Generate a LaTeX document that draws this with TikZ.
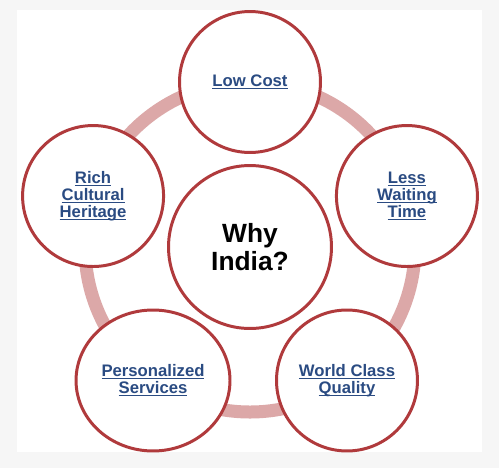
\documentclass[tikz,border=0pt]{standalone}
\usepackage{fontspec}
\setmainfont{Liberation Sans}
\usetikzlibrary{shapes.geometric}
\definecolor{indiaRed}{HTML}{B03A3C}
\definecolor{indiaPink}{HTML}{DCA8A8}
\definecolor{indiaBlue}{HTML}{2A4B82}
\definecolor{pageGrey}{HTML}{F6F6F6}
% underline at a fixed depth, so lines with descenders keep their spacing
\newcommand{\ulbl}[1]{\setbox0\hbox{#1}\rlap{\rule[-1.6pt]{\wd0}{0.6pt}}\box0}

\begin{document}
\begin{tikzpicture}[
    x=0.02cm, y=0.02cm,
    petal/.style={circle, draw=indiaRed, fill=white, line width=1.7pt,
                  minimum size=2.82cm, inner sep=0pt, align=center,
                  font=\fontsize{9.5}{9.7}\selectfont\bfseries\color{indiaBlue}},
    hub/.style={circle, draw=indiaRed, fill=white, line width=1.7pt,
                minimum size=3.26cm, inner sep=0pt, align=center,
                font=\fontsize{15}{16}\selectfont\bfseries},
    ring/.style={draw=indiaPink, line width=0.26cm},
  ]
    % page and card
    \fill[pageGrey] (-250,-221) rectangle (249,247);
    \fill[white] (-233,-205) rectangle (232,237);

    \coordinate (mid) at (0,0);
    \draw[ring] (mid) circle (165);
    \node[hub] (hub) at (mid) {Why\\India?};

    \node[petal] (cost) at (90:165) {\ulbl{Low Cost}};
    \node[petal] (waiting) at (18:165) {\ulbl{Less}\\\ulbl{Waiting}\\\ulbl{Time}};
    \node[petal] (quality) at (-54:165) {\ulbl{World Class}\\\ulbl{Quality}};
    \node[petal, ellipse, minimum width=3.08cm, minimum height=2.82cm] (services) at (-126:165)
      {\ulbl{Personalized}\\\ulbl{Services}};
    \node[petal] (heritage) at (162:165) {\ulbl{Rich}\\\ulbl{Cultural}\\\ulbl{Heritage}};
  \end{tikzpicture}
\end{document}
